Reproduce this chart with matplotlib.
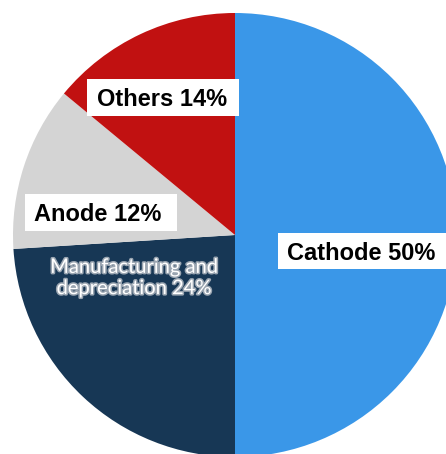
import matplotlib.pyplot as plt
import matplotlib.patheffects as pe
from matplotlib.patches import Rectangle

# Battery cost breakdown
labels = ['Cathode 50%', 'Manufacturing and\ndepreciation 24%', 'Anode 12%', 'Others 14%']
shares = [50, 24, 12, 14]
colors = ['#3a97e8', '#173755', '#d4d4d4', '#c11111']

fig = plt.figure(figsize=(4.46, 4.54), dpi=100)
ax = fig.add_axes([0, 0, 1, 1])

# pie centre sits at (235, 235) px with a 222 px radius, so the right and bottom get cut off
r_px = 222.0
cx, cy = 235.0, 235.0
W, H = 446.0, 454.0

def px(x, y):
    return (x - cx) / r_px, (cy - y) / r_px

ax.pie(shares, colors=colors, startangle=90, counterclock=False, radius=1.0,
       wedgeprops=dict(linewidth=0))
ax.set_xlim(-cx / r_px, (W - cx) / r_px)
ax.set_ylim(-(H - cy) / r_px, cy / r_px)
ax.set_aspect('auto')
ax.axis('off')

# white label boxes: (left, top, right, bottom) in pixels, then text left edge / centre y
boxes = {
    3: ((87, 79, 239, 116), (97, 97)),
    2: ((25, 194, 177, 231), (34, 212)),
    0: ((278, 233, 450, 269), (287, 251)),
}
for i, ((l, t, r, b), (tx, ty)) in boxes.items():
    x0, y0 = px(l, b)
    x1, y1 = px(r, t)
    ax.add_patch(Rectangle((x0, y0), x1 - x0, y1 - y0, facecolor='white',
                           edgecolor='none', zorder=3))
    ax.text(*px(tx, ty), labels[i], family=['Liberation Sans', 'DejaVu Sans'],
            fontweight='bold', fontsize=17, ha='left', va='center_baseline',
            color='black', zorder=4)

t = ax.text(*px(134, 278), labels[1], ha='center', va='center', color='white',
            fontsize=14.5, family=['Lato', 'DejaVu Sans'], linespacing=1.3, zorder=4)
t.set_path_effects([pe.withStroke(linewidth=2.2, foreground='#9aa5b1')])

fig.savefig('out.png', dpi=100)
